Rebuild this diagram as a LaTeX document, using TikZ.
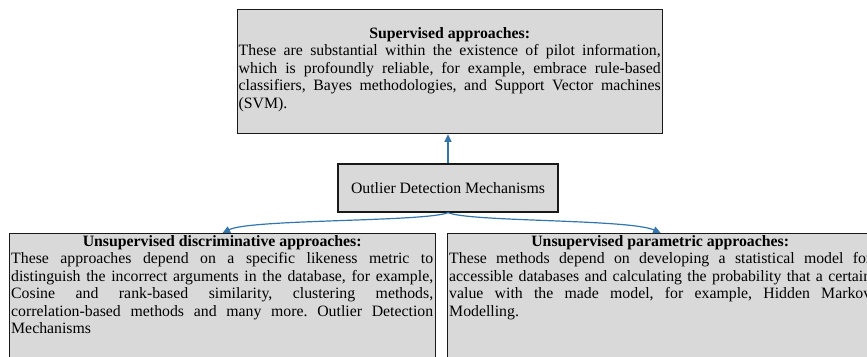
\documentclass[tikz,border=0pt]{standalone}
\usepackage{fontspec}
\setmainfont{Liberation Serif}
\usetikzlibrary{arrows.meta}
\definecolor{boxfill}{RGB}{217,217,217}
\definecolor{boxline}{RGB}{25,25,25}
\definecolor{linkblue}{RGB}{52,118,172}
% paragraph settings for the justified panel texts
\newcommand\panelpar{\tolerance=10000\relax\hbadness=10000\relax
  \hyphenpenalty=10000\relax\frenchspacing}
\tikzset{
  panel/.style={draw=boxline, fill=boxfill, line width=1.3pt, rectangle,
    inner sep=0pt, anchor=north west},
  bodyfont/.style={font=\fontsize{15.8}{17.5}\selectfont},
  paneltext/.style={text width=#1, align=justify, inner sep=0pt, anchor=base west,
    font=\fontsize{15.8}{17.5}\selectfont},
  link/.style={draw=linkblue, line width=1.2pt, -{Triangle[length=7.5pt,width=7pt]}},
}
\begin{document}
\begin{tikzpicture}[x=1pt, y=-1pt]
\useasboundingbox (0,0) rectangle (867,356);

% supervised branch
\node[panel, minimum width=425pt, minimum height=124pt] (sup) at (237,9) {};
\node[paneltext=422pt] (suptext) at (238.5,38) {\panelpar
  {\centering\bfseries Supervised approaches:\par}
  These are substantial within the existence of pilot information,\linebreak
  which is profoundly reliable, for example, embrace rule-based\linebreak
  classifiers, Bayes methodologies, and Support Vector machines\linebreak
  (SVM).};

% root
\node[panel, bodyfont, anchor=center, minimum width=220pt, minimum height=48pt]
  (odm) at (448,188) {Outlier Detection Mechanisms};

% unsupervised discriminative branch
\node[panel, minimum width=426pt, minimum height=135pt] (disc) at (9,233) {};
\node[paneltext=422pt] (disctext) at (11,246) {\panelpar
  {\centering\bfseries Unsupervised discriminative approaches:\par}
  These approaches depend on a specific likeness metric to\linebreak
  distinguish the incorrect arguments in the database, for example,\linebreak
  Cosine and rank-based similarity, clustering methods,\linebreak
  correlation-based methods and many more. Outlier Detection\linebreak
  Mechanisms};

% unsupervised parametric branch
\node[panel, minimum width=426pt, minimum height=135pt] (para) at (447,233) {};
\node[paneltext=422pt] (paratext) at (449,246) {\panelpar
  {\centering\bfseries Unsupervised parametric approaches:\par}
  These methods depend on developing a statistical model for\linebreak
  accessible databases and calculating the probability that a certain\linebreak
  value with the made model, for example, Hidden Markov\linebreak
  Modelling.};

% connectors
\draw[link] (odm.north) -- (odm.north |- sup.south);
\draw[link] (odm.south) .. controls (425,222) and (250,219) .. (disc.north);
\draw[link] (odm.south) .. controls (470,222) and (630,219) .. (para.north);
\end{tikzpicture}
\end{document}
